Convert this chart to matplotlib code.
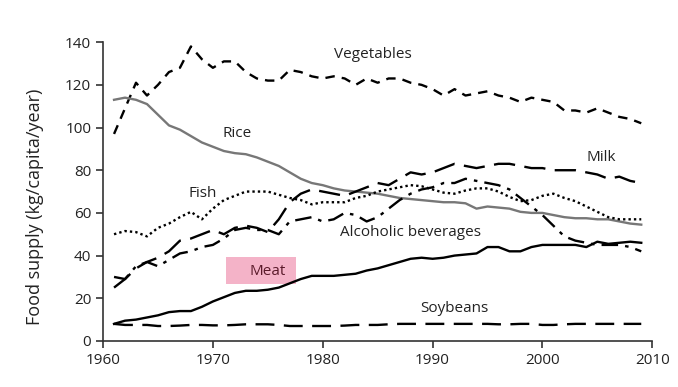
import numpy as np
import matplotlib
matplotlib.use("Agg")
import matplotlib.pyplot as plt
from matplotlib.patches import Rectangle

plt.rcParams['font.family'] = ['Open Sans', 'DejaVu Sans']

years = np.arange(1961, 2010)

vegetables = [97, 109, 121, 115, 120, 126, 128, 138, 132, 128,
              131, 131, 126, 123, 122, 122, 127, 126, 124, 123,
              124, 123, 120, 123, 121, 123, 123, 121, 120, 118,
              115, 118, 115, 116, 117, 115, 114, 112, 114, 113,
              112, 108, 108, 107, 109, 107, 105, 104, 102]
rice = [113, 114, 113, 111, 106, 101, 99, 96, 93, 91,
        89, 88, 87.5, 86, 84, 82, 79, 76, 74, 73,
        71.5, 70.5, 70, 69.5, 69, 68, 67, 66.5, 66, 65.5,
        65, 65, 64.5, 62, 63, 62.5, 62, 60.5, 60, 60,
        59, 58, 57.5, 57.5, 57, 57, 56, 55, 54.5]
milk = [25, 29, 34, 37, 39, 42, 47, 48, 50, 52,
        50, 53, 54, 53, 51, 57, 65, 69, 71, 70,
        69, 68, 70, 72, 74, 73, 76, 79, 78, 79,
        81, 83, 82, 81, 82, 83, 83, 82, 81, 81,
        80, 80, 80, 79, 78, 76, 77, 75, 74]
alcohol = [30, 29, 35, 37, 35, 38, 41, 42, 44, 45,
           48, 52, 53, 52, 52, 50, 56, 57, 58, 56,
           57, 60, 59, 56, 58, 62, 66, 69, 71, 72,
           74, 74, 76, 75, 74, 73, 71, 67, 63, 59,
           54, 49, 47, 46, 45, 45, 45, 44, 42]
fish = [50, 51.5, 51, 49, 53, 55, 58, 60.5, 57, 62,
        66, 68, 70, 70, 70, 68.5, 67, 66, 64, 65,
        65, 65, 67, 68, 70, 71, 72, 73, 72.5, 71,
        69.5, 69, 70.5, 71.5, 71.5, 70, 67.5, 65.5, 66, 68,
        69, 67, 65.5, 63, 60.5, 58, 57, 57, 57]
meat = [8, 9.5, 10, 11, 12, 13.5, 14, 14, 16, 18.5,
        20.5, 22.5, 23.5, 23.5, 24, 25, 27, 29, 30.5, 30.5,
        30.5, 31, 31.5, 33, 34, 35.5, 37, 38.5, 39, 38.5,
        39, 40, 40.5, 41, 44, 44, 42, 42, 44, 45,
        45, 45, 45, 44, 46.5, 45.5, 46, 46.5, 46]
soybeans = [8, 7.5, 7.5, 7.5, 7, 7, 7.2, 7.5, 7.5, 7.3,
            7.3, 7.5, 7.8, 7.8, 7.8, 7.5, 7, 7, 7, 7,
            7, 7.2, 7.5, 7.5, 7.5, 7.8, 8, 8, 8, 8,
            8, 8, 8, 8, 8, 7.8, 7.8, 8, 8, 7.5,
            7.5, 7.8, 8, 8, 8, 8, 8, 8, 8]

fig = plt.figure(figsize=(6.78, 3.87), dpi=100)
ax = fig.add_axes([0.152, 0.119, 0.810, 0.772])

ax.plot(years, vegetables, color='black', lw=1.7, dashes=(4, 3))
ax.plot(years, rice, color='#777777', lw=1.7)
ax.plot(years, milk, color='black', lw=1.7, dashes=(9, 4))
ax.plot(years, alcohol, color='black', lw=1.7, dashes=(7, 3, 1.5, 3))
ax.plot(years, fish, color='black', lw=1.7, dashes=(1, 1.3))
ax.plot(years, meat, color='black', lw=1.7)
ax.plot(years, soybeans, color='black', lw=1.7, dashes=(8, 4))

# pink highlight behind the Meat label
ax.add_patch(Rectangle((1971.2, 26.7), 6.4, 12.6, facecolor='#f4b3c8',
                       edgecolor='none', zorder=1))

txt = dict(fontsize=11, color='#222222', ha='center', va='center')
ax.text(1984.6, 134, 'Vegetables', **txt)
ax.text(1972.2, 97, 'Rice', **txt)
ax.text(2005.4, 86, 'Milk', **txt)
ax.text(1969.1, 69, 'Fish', **txt)
ax.text(1988.0, 51, 'Alcoholic beverages', **txt)
ax.text(1975.0, 32.7, 'Meat', fontsize=11, color='#5a1a2a', ha='center', va='center', zorder=2)
ax.text(1992.0, 15.4, 'Soybeans', **txt)

ax.set_xlim(1960, 2010)
ax.set_ylim(0, 140)
ax.set_xticks(range(1960, 2011, 10))
ax.set_yticks(range(0, 141, 20))
ax.spines['top'].set_visible(False)
ax.spines['right'].set_visible(False)
for s in ('left', 'bottom'):
    ax.spines[s].set_color('#333333')
    ax.spines[s].set_linewidth(1.2)
ax.tick_params(direction='out', length=5, width=1.2, color='#333333',
               labelsize=11, labelcolor='#222222')
ax.set_ylabel('Food supply (kg/capita/year)', fontsize=13, color='#222222')
ax.yaxis.set_label_coords(-0.108, 0.45)

fig.savefig('out.png', dpi=100)
